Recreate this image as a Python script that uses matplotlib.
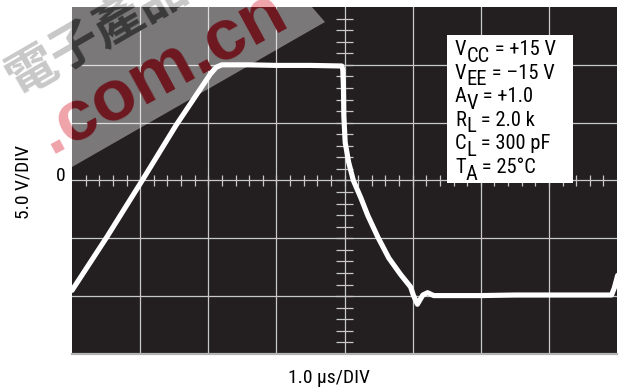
import numpy as np
import matplotlib

matplotlib.use("Agg")
import matplotlib.pyplot as plt
import matplotlib.transforms as mtransforms
from matplotlib import font_manager
from matplotlib.patches import Polygon, Rectangle

# scope trace: time in us (1 us/div), output in V (5 V/div)
time_us = [0.00, 0.51, 1.03, 1.53, 2.03, 2.12, 2.20, 2.60, 3.00, 3.50, 3.96,
           3.975, 3.985, 3.99, 4.01, 4.06, 4.13, 4.24, 4.34, 4.49, 4.65, 4.82,
           4.97, 5.01, 5.07, 5.11, 5.15, 5.22, 5.31, 5.50, 6.00, 6.50, 7.00,
           7.50, 7.92, 7.96, 8.01]
vout = [-9.5, -4.9, 0.0, 4.8, 9.2, 9.8, 10.0, 10.0, 9.95, 9.95, 9.9,
        9.6, 7.9, 5.6, 3.3, 1.6, 0.0, -1.5, -3.0, -4.9, -6.7, -8.1,
        -9.2, -9.9, -10.7, -10.3, -9.9, -9.7, -9.95, -9.95, -9.95, -9.9, -9.9,
        -9.9, -9.9, -9.3, -8.2]

# test conditions: (symbol, subscript, rest)
cond_sym = ["V", "V", "A", "R", "C", "T"]
cond_sub = ["CC", "EE", "V", "L", "L", "A"]
cond_val = [" = +15 V", " = –15 V", " = +1.0", " = 2.0 k", " = 300 pF", " = 25°C"]
x_label = "1.0 µs/DIV"
y_label = "5.0 V/DIV"


def pick_narrow():
    names = {f.name for f in font_manager.fontManager.ttflist}
    for n in ("Liberation Sans Narrow", "Roboto Condensed", "Open Sans Condensed",
              "DejaVu Sans Condensed", "Arial Narrow"):
        if n in names:
            return n, "normal"
    for f in font_manager.fontManager.ttflist:
        if f.stretch in ("condensed", "semi-condensed", 75, 87.5) and f.style == "normal":
            return f.name, "condensed"
    return "Liberation Sans", "normal"


FAM, STRETCH = pick_narrow()
plt.rcParams["font.family"] = [FAM, "DejaVu Sans"]
plt.rcParams["font.stretch"] = STRETCH

W, H = 623, 392
fig = plt.figure(figsize=(W / 100, H / 100), dpi=100)
renderer = fig.canvas.get_renderer()
# pixel coords, y pointing down
px = mtransforms.Affine2D().scale(1 / W, -1 / H).translate(0, 1) + fig.transFigure


def fit_size(s, target_px, base=14.0):
    t = fig.text(0, 0, s, fontsize=base)
    w = t.get_window_extent(renderer).width
    t.remove()
    return base * target_px / w


fs_box = min(15.5, fit_size("VCC = +15 V", 101))
fs_lab = min(14.0, fit_size(x_label, 83))

ax = fig.add_axes([72 / W, 1 - 354 / H, 545 / W, 347 / H])
ax.set_facecolor("#231f20")
ax.set_xlim(0, 8)
ax.set_ylim(-15, 15)
for s in ("top", "left", "right"):
    ax.spines[s].set_visible(False)
ax.spines["bottom"].set_color("#b4b4b4")
ax.spines["bottom"].set_linewidth(1.6)
ax.set_xticks(np.arange(1, 8))
ax.set_yticks(np.arange(-10, 15, 5))
ax.tick_params(length=0, labelbottom=False, labelleft=False)
ax.grid(True, color="#c8c8c8", linewidth=0.9)

# minor ticks on the centre cross-hair
gc = "#c8c8c8"
ax.vlines(np.arange(0.2, 8, 0.2), -0.47, 0.47, color=gc, linewidth=0.9)
ax.hlines(np.arange(-14, 15, 1.0), 4 - 0.12, 4 + 0.12, color=gc, linewidth=0.9)

# watermark band (lightens the black screen)
band_xy = [(72, 167), (325, 22), (312, 7), (72, 7)]
band = Polygon(band_xy, closed=True, transform=px, facecolor="white",
               edgecolor="none", alpha=0.4, zorder=2.5)
ax.add_patch(band)
clip_band = Polygon(band_xy, closed=True, transform=px)

wm_cn = "電子產品"
wm_url = ".com.cn"
cn_font = dict(family=["Noto Sans CJK TC", "DejaVu Sans"], fontweight="bold",
               fontsize=36, stretch="normal")
url_font = dict(family="Liberation Sans", fontweight="bold", fontsize=52,
                stretch="normal")
cn_kw = dict(transform=px, rotation=30, rotation_mode="anchor", ha="left", va="center")
url_kw = dict(transform=px, rotation=28.5, rotation_mode="anchor", ha="left",
              va="baseline")
fig.text(10, 84, wm_cn, color="#c8c8c8", zorder=-1, **cn_kw, **cn_font)
fig.text(51, 154.5, wm_url, color="#efa3aa", zorder=-1, **url_kw, **url_font)
t1 = ax.text(10, 84, wm_cn, color="#3a3a3a", zorder=2.6, clip_on=True,
             **cn_kw, **cn_font)
t1.set_clip_path(clip_band)
t2 = ax.text(51, 154.5, wm_url, color="#6e1820", zorder=2.6, clip_on=True,
             **url_kw, **url_font)
t2.set_clip_path(clip_band)

ax.plot(time_us, vout, color="white", linewidth=3.7, solid_joinstyle="round",
        solid_capstyle="round", zorder=3)

# conditions box
box = Rectangle((447, 35), 126, 148, transform=px, facecolor="white",
                edgecolor="none", zorder=4)
ax.add_patch(box)
drop = 4.7  # subscript drop in points
for i, (sym, sub, val) in enumerate(zip(cond_sym, cond_sub, cond_val)):
    t0 = ax.text(455, 55 + i * 23.6, sym, transform=px, fontsize=fs_box,
                 ha="left", va="baseline", color="black", zorder=5)
    ts = ax.annotate(sub, xy=(1, 0), xycoords=t0, xytext=(0, -drop),
                     textcoords="offset points", fontsize=fs_box,
                     ha="left", va="bottom", color="black", zorder=5)
    ax.annotate(val, xy=(1, 0), xycoords=ts, xytext=(0, drop),
                textcoords="offset points", fontsize=fs_box,
                ha="left", va="bottom", color="black", zorder=5)

fig.text(328.5, 383, x_label, transform=px, ha="center", va="baseline", fontsize=fs_lab)
fig.text(24, 182, y_label, transform=px, ha="center", va="center",
         rotation=90, fontsize=fs_lab)
fig.text(61, 181.5, "0", transform=px, ha="center", va="baseline", fontsize=fs_lab)

fig.savefig("out.png", dpi=100)
